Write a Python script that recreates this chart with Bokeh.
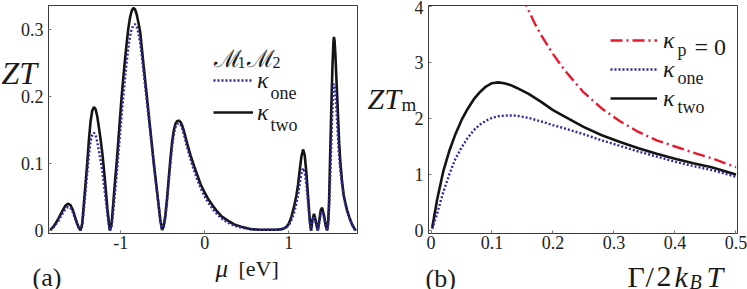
from bokeh.plotting import figure
from bokeh.models import Label, Legend, LegendItem, FixedTicker, Range1d
from bokeh.layouts import row, column
from bokeh.embed import file_html
from bokeh.resources import INLINE

SERIF = "Liberation Serif"
SCRIPT = "DejaVu Serif"

# ---------------- data: panel (a) ----------------
mu = [-1.84, -1.80, -1.75, -1.70, -1.66, -1.63, -1.60, -1.57, -1.54, -1.51, -1.48,
      -1.46, -1.44, -1.42, -1.40, -1.38, -1.36, -1.34, -1.32, -1.30, -1.28, -1.26,
      -1.24, -1.22, -1.20, -1.18, -1.16, -1.14, -1.13,
      -1.11, -1.09, -1.07, -1.05, -1.03, -1.01, -0.99, -0.97, -0.95, -0.93, -0.91,
      -0.89, -0.87, -0.85, -0.83, -0.81, -0.79, -0.77, -0.75, -0.73, -0.71, -0.69,
      -0.67, -0.65, -0.63, -0.61, -0.59, -0.57, -0.55, -0.53, -0.51,
      -0.49, -0.47, -0.45, -0.43, -0.41, -0.39, -0.37, -0.35, -0.33, -0.31, -0.29,
      -0.27, -0.25, -0.21, -0.17, -0.13, -0.09, -0.05, 0.00, 0.05, 0.10, 0.15, 0.20,
      0.27, 0.35, 0.45, 0.55, 0.65, 0.75, 0.85, 0.92,
      0.97, 1.00, 1.03, 1.06, 1.09, 1.11, 1.13, 1.15, 1.17, 1.19, 1.21, 1.23, 1.25, 1.265,
      1.28, 1.30, 1.32, 1.345, 1.36, 1.38, 1.397, 1.42, 1.44, 1.457,
      1.47, 1.48, 1.49, 1.50, 1.51, 1.52, 1.53, 1.537, 1.545, 1.555, 1.565, 1.576,
      1.59, 1.60, 1.615, 1.635, 1.655, 1.675, 1.695, 1.72, 1.75, 1.78, 1.80]

zt_two = [0.001, 0.006, 0.016, 0.028, 0.037, 0.040, 0.038, 0.030, 0.018, 0.007, 0.000,
          0.010, 0.040, 0.070, 0.100, 0.135, 0.163, 0.179, 0.184, 0.181, 0.170, 0.153,
          0.135, 0.115, 0.090, 0.062, 0.033, 0.009, 0.000,
          0.010, 0.040, 0.072, 0.100, 0.133, 0.167, 0.200, 0.228, 0.255, 0.280, 0.302,
          0.318, 0.328, 0.332, 0.330, 0.322, 0.310, 0.297, 0.272, 0.248, 0.224, 0.200,
          0.176, 0.152, 0.128, 0.104, 0.082, 0.060, 0.038, 0.016, 0.001,
          0.006, 0.022, 0.047, 0.077, 0.106, 0.131, 0.149, 0.159, 0.163, 0.164, 0.162,
          0.157, 0.149, 0.130, 0.112, 0.097, 0.083, 0.069, 0.056, 0.045, 0.036, 0.028, 0.021,
          0.015, 0.009, 0.005, 0.002, 0.001, 0.001, 0.001, 0.002,
          0.005, 0.010, 0.020, 0.034, 0.052, 0.068, 0.090, 0.110, 0.121, 0.112, 0.085, 0.050, 0.015, 0.000,
          0.015, 0.025, 0.015, 0.000, 0.012, 0.030, 0.034, 0.022, 0.007, 0.000,
          0.015, 0.045, 0.100, 0.150, 0.200, 0.245, 0.278, 0.289, 0.283, 0.262, 0.232, 0.200,
          0.160, 0.130, 0.100, 0.072, 0.052, 0.040, 0.030, 0.020, 0.010, 0.003, 0.000]

zt_one = [0.000, 0.005, 0.013, 0.024, 0.032, 0.035, 0.034, 0.027, 0.016, 0.006, 0.000,
          0.006, 0.030, 0.058, 0.085, 0.112, 0.133, 0.143, 0.146, 0.142, 0.132, 0.118,
          0.104, 0.088, 0.068, 0.046, 0.024, 0.006, 0.000,
          0.006, 0.028, 0.055, 0.082, 0.112, 0.143, 0.172, 0.200, 0.227, 0.252, 0.273,
          0.290, 0.301, 0.306, 0.308, 0.304, 0.294, 0.280, 0.260, 0.238, 0.215, 0.193,
          0.170, 0.147, 0.124, 0.100, 0.079, 0.058, 0.037, 0.015, 0.001,
          0.005, 0.019, 0.042, 0.071, 0.099, 0.124, 0.143, 0.154, 0.159, 0.160, 0.158,
          0.152, 0.144, 0.124, 0.106, 0.090, 0.076, 0.063, 0.050, 0.040, 0.031, 0.024, 0.018,
          0.012, 0.007, 0.004, 0.002, 0.001, 0.001, 0.001, 0.002,
          0.004, 0.008, 0.015, 0.025, 0.040, 0.053, 0.070, 0.085, 0.093, 0.087, 0.067, 0.040, 0.012, 0.000,
          0.012, 0.021, 0.012, 0.000, 0.010, 0.025, 0.029, 0.018, 0.006, 0.000,
          0.010, 0.035, 0.070, 0.105, 0.145, 0.183, 0.210, 0.219, 0.216, 0.205, 0.185, 0.160,
          0.128, 0.108, 0.088, 0.066, 0.050, 0.038, 0.028, 0.019, 0.009, 0.002, 0.000]

a_xticks = [-1, 0, 1]
a_xlabels = ["-1", "0", "1"]
a_yticks = [0, 0.1, 0.2, 0.3]
a_ylabels = ["0", "0.1", "0.2", "0.3"]

# ---------------- data: panel (b) ----------------
gam = [0.002, 0.01, 0.02, 0.03, 0.04, 0.05, 0.06, 0.07, 0.08, 0.09, 0.10, 0.11, 0.12,
       0.13, 0.14, 0.16, 0.18, 0.20, 0.22, 0.25, 0.28, 0.31, 0.34, 0.37, 0.40, 0.43, 0.46, 0.50]
ztm_two = [0.05, 0.55, 1.05, 1.42, 1.72, 1.97, 2.17, 2.34, 2.47, 2.57, 2.63, 2.645, 2.63,
           2.60, 2.55, 2.44, 2.30, 2.15, 2.03, 1.85, 1.70, 1.58, 1.47, 1.37, 1.28, 1.20, 1.13, 1.00]
ztm_one = [0.03, 0.30, 0.68, 1.00, 1.28, 1.48, 1.65, 1.79, 1.89, 1.96, 2.01, 2.04, 2.05,
           2.055, 2.05, 2.01, 1.95, 1.88, 1.82, 1.72, 1.61, 1.51, 1.41, 1.32, 1.23, 1.15, 1.08, 0.96]
gam_p = [0.150, 0.157, 0.17, 0.18, 0.20, 0.22, 0.25, 0.28, 0.31, 0.34, 0.37, 0.40, 0.43, 0.46, 0.50]
ztm_p0 = [4.2, 4.0, 3.7, 3.5, 3.15, 2.85, 2.47, 2.18, 1.95, 1.76, 1.61, 1.50, 1.39, 1.29, 1.13]

b_xticks = [0, 0.1, 0.2, 0.3, 0.4, 0.5]
b_xlabels = ["0", "0.1", "0.2", "0.3", "0.4", "0.5"]
b_yticks = [0, 1, 2, 3, 4]
b_ylabels = ["0", "1", "2", "3", "4"]

# ---------------- layout geometry (page pixels, origin top-left) ----------------
H = 289
FT, FB = 5, 233
A_X0, A_W, A_FL, A_FR = 0, 365, 48, 357
B_X0, B_W, B_FL, B_FR = 365, 382, 428, 737
A_XR, A_YR = (-1.861, 1.818), (-0.0045, 0.3358)
B_XR, B_YR = (-0.0041, 0.5025), (-0.054, 4.018)

BLACK = "#141414"
BLUE = "#2b2ba3"
RED = "#e8192c"
FRAME = "#3a3a3a"
INK = "#1a1a1a"


def make_fig(x0, w, fl, fr, xr, yr, xt, xl, yt, yl):
    p = figure(width=w, height=H, x_range=Range1d(*xr), y_range=Range1d(*yr),
               output_backend="svg", toolbar_location=None, title=None,
               min_border_left=fl - x0, min_border_right=x0 + w - fr,
               min_border_top=FT, min_border_bottom=H - FB)
    p.grid.visible = False
    p.outline_line_color = FRAME
    p.outline_line_width = 1
    p.background_fill_alpha = 0
    p.border_fill_alpha = 0
    for ax, ticks, labels in ((p.xaxis[0], xt, xl), (p.yaxis[0], yt, yl)):
        ax.ticker = FixedTicker(ticks=ticks)
        ax.major_label_overrides = {t: s for t, s in zip(ticks, labels)}
        ax.axis_line_color = FRAME
        ax.major_tick_in = 3
        ax.major_tick_out = 0
        ax.major_tick_line_color = "#777"
        ax.minor_tick_line_color = None
        ax.major_label_text_font = SERIF
        ax.major_label_text_font_size = "18px"
        ax.major_label_text_color = "#222"
    p.xaxis[0].major_label_standoff = 2
    p.yaxis[0].major_label_standoff = 5
    return p


# ---------------- panel (a) ----------------
pa = make_fig(A_X0, A_W, A_FL, A_FR, A_XR, A_YR, a_xticks, a_xlabels, a_yticks, a_ylabels)
r_two_a = pa.line(mu, zt_two, line_color=BLACK, line_width=2.6)
r_one_a = pa.line(mu, zt_one, line_color=BLUE, line_width=2.4, line_dash="2 2")

leg_a = Legend(items=[LegendItem(label="κ", renderers=[r_one_a]),
                      LegendItem(label="κ", renderers=[r_two_a])],
               location=(213 - A_FL, FB - 128), orientation="vertical",
               glyph_width=40, glyph_height=32, label_height=32, spacing=0,
               padding=0, margin=0, label_standoff=4,
               label_text_font=SERIF, label_text_font_style="italic",
               label_text_font_size="24px", label_text_color=INK,
               border_line_color=None, background_fill_alpha=0)
pa.add_layout(leg_a)

# ---------------- panel (b) ----------------
pb = make_fig(B_X0, B_W, B_FL, B_FR, B_XR, B_YR, b_xticks, b_xlabels, b_yticks, b_ylabels)
r_p0 = pb.line(gam_p, ztm_p0, line_color=RED, line_width=2.4, line_dash="12 4 2 4")
r_two_b = pb.line(gam, ztm_two, line_color=BLACK, line_width=2.6)
r_one_b = pb.line(gam, ztm_one, line_color=BLUE, line_width=2.4, line_dash="2 2")

leg_b = Legend(items=[LegendItem(label="κ", renderers=[r_p0]),
                      LegendItem(label="κ", renderers=[r_one_b]),
                      LegendItem(label="κ", renderers=[r_two_b])],
               location=(610 - B_FL, FB - 112), orientation="vertical",
               glyph_width=47, glyph_height=28, label_height=28, spacing=1,
               padding=0, margin=0, label_standoff=6,
               label_text_font=SERIF, label_text_font_style="italic",
               label_text_font_size="24px", label_text_color=INK,
               border_line_color=None, background_fill_alpha=0)
pb.add_layout(leg_b)

# ---------------- text overlay (transparent figure over both panels) ----------------
ov = figure(width=747, height=H, x_range=Range1d(0, 747), y_range=Range1d(H, 0),
            output_backend="svg", toolbar_location=None, title=None,
            x_axis_type=None, y_axis_type=None,
            min_border=0, min_border_left=0, min_border_right=0,
            min_border_top=0, min_border_bottom=0,
            margin=(-H, 0, 0, 0))
ov.grid.visible = False
ov.outline_line_color = None
ov.background_fill_alpha = 0
ov.border_fill_alpha = 0


def add_text(px, py, text, size, style="normal", font=SERIF):
    ov.add_layout(Label(x=px, y=py, text=text, text_font=font,
                        text_font_size=f"{size}px", text_font_style=style,
                        text_color=INK, text_baseline="alphabetic", text_align="left"))


# panel (a) texts
add_text(1, 72, "ZT", 32, "italic")
add_text(215, 268, "μ", 25, "italic")
add_text(238, 268, "[eV]", 22)
add_text(32, 277, "(a)", 26)
add_text(213, 58, "ℳ", 24, "normal", SCRIPT)
add_text(237, 62, "1", 16)
add_text(246, 58, "ℳ", 24, "normal", SCRIPT)
add_text(272, 62, "2", 16)
add_text(270, 92, "one", 18)
add_text(270, 124, "two", 18)

# panel (b) texts
add_text(677, 49, "p", 18)
add_text(694, 46, "= 0", 24)
add_text(677, 77, "one", 18)
add_text(677, 106, "two", 18)
add_text(367, 98, "ZT", 30, "italic")
add_text(401, 104, "m", 19)
add_text(425, 278, "(b)", 26)
add_text(627, 276, "Γ", 30)
add_text(645, 276, "/", 30)
add_text(656, 276, "2", 30)
add_text(674, 276, "k", 30, "italic")
add_text(689, 281, "B", 20, "italic")
add_text(706, 276, "T", 30, "italic")

layout = column(row(pa, pb, spacing=0), ov, spacing=0)
open("out.html", "w").write(file_html(layout, INLINE))
